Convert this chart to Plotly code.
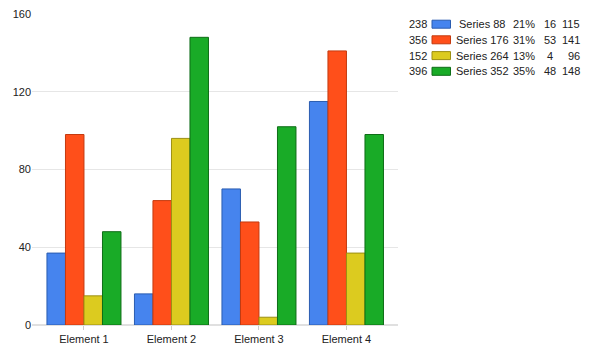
import plotly.graph_objects as go

categories = ["Element 1", "Element 2", "Element 3", "Element 4"]
series_names = ["Series 88", "Series 176", "Series 264", "Series 352"]
blue_vals = [37, 16, 70, 115]
red_vals = [98, 64, 53, 141]
yellow_vals = [15, 96, 4, 37]
green_vals = [48, 148, 102, 98]
y_ticks = [0, 40, 80, 120, 160]

series_values = [blue_vals, red_vals, yellow_vals, green_vals]
fills = ["#4684ee", "#ff4f1a", "#dccb1f", "#19ab27"]
borders = ["#2a5cb0", "#c43a0f", "#9c8f12", "#0e6d17"]

FONT = "Liberation Sans"
fig = go.Figure()
xs = list(range(len(categories)))
for name, vals, f, b in zip(series_names, series_values, fills, borders):
    fig.add_trace(go.Bar(x=xs, y=vals, name=name, marker=dict(color=f, line=dict(color=b, width=1))))

total = sum(sum(v) for v in series_values)
rows_y = [24.2, 39.8, 55.6, 71.3]
ann = []
shapes = []
PH = 351 - 14 - 26


def px(x):
    return (x - 32) / 366


for i, (name, vals, f, b) in enumerate(zip(series_names, series_values, fills, borders)):
    y = 1 - (rows_y[i] - 14) / PH
    s = sum(vals)
    pct = round(100 * s / total)
    common = dict(xref="paper", yref="paper", y=y, yanchor="middle", showarrow=False,
                  font=dict(family=FONT, size=11, color="#222222"))
    ann.append(dict(x=px(429), xanchor="right", text=str(s), **common))
    ann.append(dict(x=px(482), xanchor="center", text=name, **common))
    ann.append(dict(x=px(537), xanchor="right", text=f"{pct}%", **common))
    ann.append(dict(x=px(549.5), xanchor="center", text=str(min(vals)), **common))
    ann.append(dict(x=px(582), xanchor="right", text=str(max(vals)), **common))
    h = 4 / PH
    shapes.append(dict(type="rect", xref="paper", yref="paper",
                       x0=px(432), x1=px(450.5), y0=y - h, y1=y + h,
                       fillcolor=f, line=dict(color=b, width=1)))

fig.update_layout(
    width=591, height=351,
    margin=dict(l=32, r=193, t=14, b=26),
    paper_bgcolor="white", plot_bgcolor="white",
    showlegend=False,
    barmode="group", bargap=0.154, bargroupgap=0,
    font=dict(family=FONT, size=11, color="#222222"),
    xaxis=dict(tickmode="array", tickvals=xs, ticktext=categories, range=[-0.594, 3.589],
               showgrid=False, zeroline=False, ticks="outside", ticklen=4, tickcolor="#cccccc",
               showline=False, automargin=False, tickfont=dict(size=11, family=FONT, color="#222222")),
    yaxis=dict(range=[0, 160], tickvals=y_ticks, showgrid=True, gridcolor="#e6e6e6", gridwidth=1,
               zeroline=True, zerolinecolor="#e0e0e0", ticks="", automargin=False,
               tickfont=dict(size=11, family=FONT, color="#222222")),
    annotations=ann, shapes=shapes,
)
fig.write_html("out.html")
